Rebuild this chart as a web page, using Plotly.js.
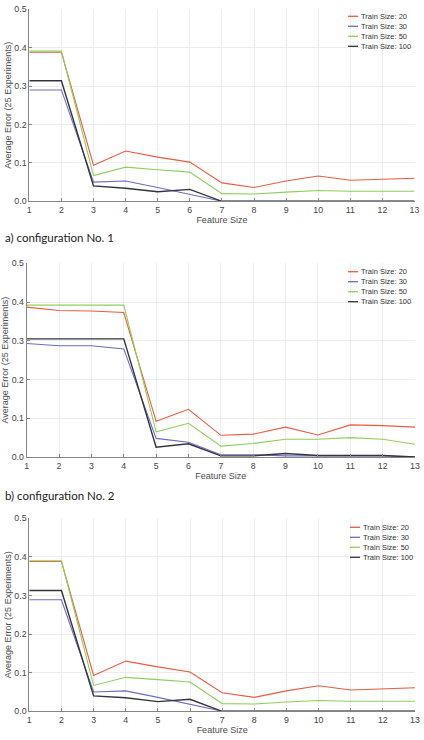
<!DOCTYPE html>
<html>
<head>
<meta charset="utf-8">
<script src="https://cdn.plot.ly/plotly-3.0.1.min.js"></script>
<style>html,body{margin:0;padding:0;background:#fff;}#chart{width:424px;height:740px;}</style>
</head>
<body>
<div id="chart"></div>
<script>
// ---- data ----
const featureSize = [1,2,3,4,5,6,7,8,9,10,11,12,13];
const seriesNames = ["Train Size: 20","Train Size: 30","Train Size: 50","Train Size: 100"];
const captions = ["a) configuration No. 1","b) configuration No. 2"];
const xTitle = "Feature Size";
const yTitle = "Average Error (25 Experiments)";

// configuration No. 1
const c1_ts20  = [0.388,0.388,0.094,0.131,0.115,0.102,0.048,0.036,0.053,0.066,0.055,0.058,0.060];
const c1_ts30  = [0.290,0.290,0.050,0.053,0.036,0.018,0.000,0.000,0.000,0.000,0.000,0.000,0.000];
const c1_ts50  = [0.391,0.391,0.067,0.089,0.082,0.076,0.020,0.019,0.024,0.028,0.026,0.026,0.026];
const c1_ts100 = [0.314,0.314,0.040,0.034,0.025,0.031,0.000,0.000,0.000,0.000,0.000,0.000,0.000];

// configuration No. 2
const c2_ts20  = [0.387,0.378,0.377,0.373,0.092,0.123,0.056,0.059,0.077,0.057,0.083,0.081,0.077];
const c2_ts30  = [0.293,0.287,0.287,0.279,0.048,0.038,0.006,0.006,0.003,0.003,0.003,0.003,0.000];
const c2_ts50  = [0.392,0.392,0.392,0.392,0.065,0.087,0.028,0.035,0.046,0.046,0.050,0.046,0.033];
const c2_ts100 = [0.305,0.305,0.305,0.305,0.025,0.034,0.003,0.003,0.009,0.004,0.004,0.004,0.000];

// third panel (unlabelled)
const c3_ts20  = [0.388,0.388,0.093,0.130,0.115,0.102,0.048,0.036,0.053,0.066,0.055,0.058,0.061];
const c3_ts30  = [0.289,0.289,0.050,0.053,0.036,0.018,0.000,0.000,0.000,0.000,0.000,0.000,0.000];
const c3_ts50  = [0.390,0.390,0.067,0.088,0.082,0.076,0.020,0.019,0.024,0.028,0.026,0.026,0.026];
const c3_ts100 = [0.313,0.313,0.040,0.035,0.025,0.031,0.000,0.000,0.000,0.000,0.000,0.000,0.000];

const colors = ["#ec5b40","#6b6bc8","#8fcf5c","#34343c"];
const widths = [1.1,1.1,1.1,1.4];

// ---- layout helpers ----
const W = 424, H = 740;
const fx = p => p / W;
const fy = p => 1 - p / H;

const panels = [
  {data:[c1_ts20,c1_ts30,c1_ts50,c1_ts100], left:29.3, right:414.5, top:9.3, bottom:201.3, legTop:16.3, legX:348},
  {data:[c2_ts20,c2_ts30,c2_ts50,c2_ts100], left:26.7, right:415,   top:263.3, bottom:457, legTop:271.7, legX:348},
  {data:[c3_ts20,c3_ts30,c3_ts50,c3_ts100], left:29.3, right:415,   top:518.3, bottom:711.3, legTop:527.3, legX:350}
];

const traces = [];
const layout = {
  width: W, height: H,
  margin: {l:0, r:0, t:0, b:0},
  paper_bgcolor: "#ffffff",
  plot_bgcolor: "#ffffff",
  showlegend: false,
  font: {family: "Liberation Sans, Arial, sans-serif", color: "#4a4a4a", size: 8.5},
  shapes: [],
  annotations: []
};

panels.forEach((p, i) => {
  const n = i + 1;
  const xa = n === 1 ? "x" : "x" + n;
  const ya = n === 1 ? "y" : "y" + n;
  [0,1,2,3].forEach(s => {
    traces.push({
      x: featureSize, y: p.data[s], name: seriesNames[s],
      type: "scatter", mode: "lines",
      line: {color: colors[s], width: widths[s]},
      xaxis: xa, yaxis: ya, showlegend: false
    });
  });
  const axCommon = {
    showline: true, linecolor: "#858585", linewidth: 1,
    showgrid: true, gridcolor: "#ededed", gridwidth: 1,
    zeroline: false, ticks: "inside", ticklen: 3, tickcolor: "#858585",
    tickfont: {size: 8.8, color: "#444444", family: "Liberation Sans, Arial, sans-serif"},
    fixedrange: true
  };
  layout[n === 1 ? "xaxis" : "xaxis" + n] = Object.assign({}, axCommon, {
    domain: [fx(p.left), fx(p.right)],
    anchor: ya, range: [1, 13], dtick: 1, tick0: 1,
    title: {text: xTitle, standoff: 2, font: {size: 9, color: "#4d4d4d"}},
    automargin: false
  });
  layout[n === 1 ? "yaxis" : "yaxis" + n] = Object.assign({}, axCommon, {
    domain: [fy(p.bottom), fy(p.top)],
    anchor: xa, range: [0, 0.5], dtick: 0.1, tick0: 0, tickformat: ".1f",
    title: {text: yTitle, standoff: 1, font: {size: 9, color: "#4d4d4d"}},
    automargin: false
  });
  // legend block
  seriesNames.forEach((name, s) => {
    const yy = p.legTop + s * 10;
    layout.shapes.push({
      type: "line", xref: "paper", yref: "paper",
      x0: fx(p.legX), x1: fx(p.legX + 10), y0: fy(yy), y1: fy(yy),
      line: {color: colors[s], width: 1.3}
    });
    layout.annotations.push({
      xref: "paper", yref: "paper", x: fx(p.legX + 11), y: fy(yy),
      xanchor: "left", yanchor: "middle", showarrow: false,
      text: name, font: {size: 7.5, color: "#333333", family: "Liberation Sans, Arial, sans-serif"}
    });
  });
});

// captions
layout.annotations.push({
  xref: "paper", yref: "paper", x: fx(3), y: fy(237.5), xanchor: "left", yanchor: "middle",
  showarrow: false, text: captions[0], font: {size: 11.5, color: "#222222", family: "Lato, Noto Sans, sans-serif"}
});
layout.annotations.push({
  xref: "paper", yref: "paper", x: fx(3), y: fy(495), xanchor: "left", yanchor: "middle",
  showarrow: false, text: captions[1], font: {size: 11.5, color: "#222222", family: "Lato, Noto Sans, sans-serif"}
});

Plotly.newPlot("chart", traces, layout, {staticPlot: true, displayModeBar: false});
</script>
</body>
</html>
